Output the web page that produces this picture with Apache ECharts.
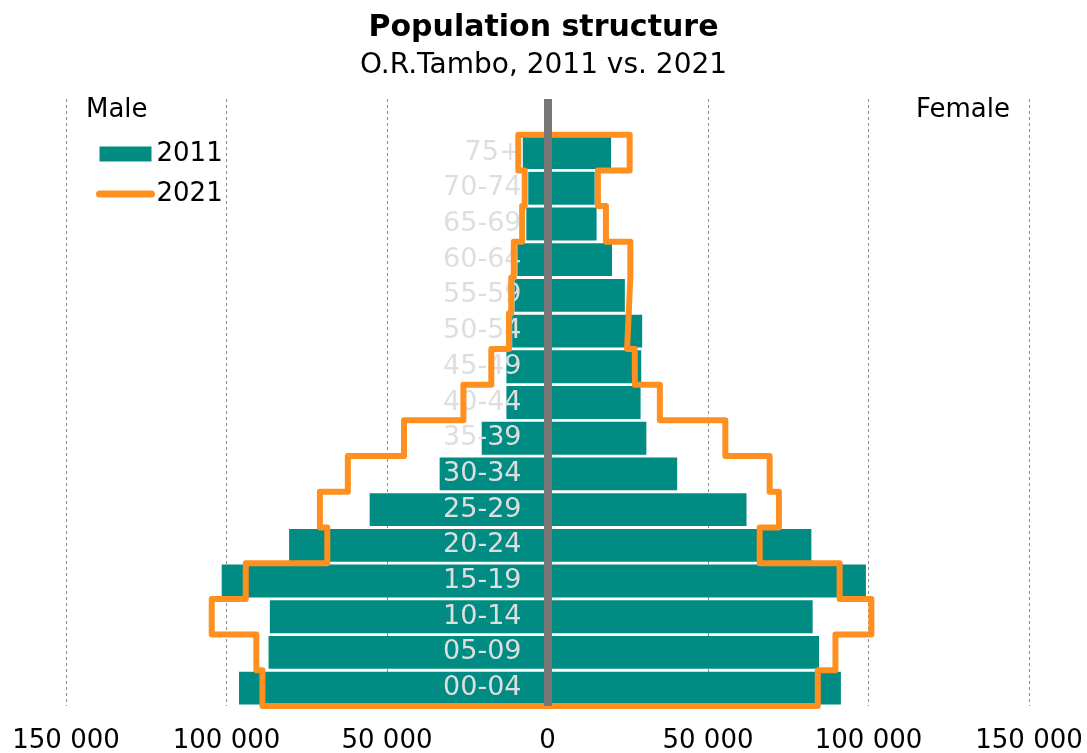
<!DOCTYPE html>
<html><head><meta charset="utf-8">
<script src="https://cdn.jsdelivr.net/npm/echarts@6/dist/echarts.min.js"></script>
<style>html,body{margin:0;padding:0;background:#fff}#c{width:1087px;height:753px}</style>
</head><body><div id="c"></div>
<script>
const categories = ['00-04','05-09','10-14','15-19','20-24','25-29','30-34','35-39','40-44','45-49','50-54','55-59','60-64','65-69','70-74','75+'];
const male2011 =   [96100, 86900, 86500, 101500, 80500, 55400, 33600, 20500, 12800, 12800, 11000, 10300, 9400, 6600, 6000, 7700];
const female2011 = [91400, 84600, 82600, 99200, 82200, 62000, 40400, 30800, 29000, 29200, 29500, 24100, 20100, 15300, 14700, 19800];
const male2021 =   [88800, 90700, 104600, 94000, 68600, 70900, 62200, 44700, 26200, 17500, 12000, 11300, 10500, 7900, 7100, 9100];
const female2021 = [84200, 89700, 100900, 91000, 66100, 72100, 69200, 55400, 35000, 27200, 24800, 25300, 25800, 18200, 15700, 25600];
const xTicks = [-150000, -100000, -50000, 0, 50000, 100000, 150000];

const FONT = 'DejaVu Sans';
const TEAL = '#008c82';
const ORANGE = '#ff8f1f';
const n = categories.length;
const yCats = categories.concat(['']);

// outline path of the 2021 pyramid in (value, band-edge) space
const path2021 = [];
for (let i = 0; i < n; i++) { path2021.push([-male2021[i], i], [-male2021[i], i + 1]); }
for (let i = n - 1; i >= 0; i--) { path2021.push([female2021[i], i + 1], [female2021[i], i]); }
path2021.push([-male2021[0], 0]);

function fmt(v) { return String(Math.abs(v)).replace(/\B(?=(\d{3})+(?!\d))/g, ' '); }

const GRID_LEFT = 66, GRID_RIGHT = 58, W = 1087;
const plotW = W - GRID_LEFT - GRID_RIGHT;

const chart = echarts.init(document.getElementById('c'));
chart.setOption({
  animation: false,
  backgroundColor: '#fff',
  textStyle: { fontFamily: FONT },
  title: [
    { text: 'Population structure', left: 'center', top: 8,
      textStyle: { fontFamily: FONT, fontSize: 30, fontWeight: 'bold', color: '#000' } },
    { text: 'O.R.Tambo, 2011 vs. 2021', left: 'center', top: 47,
      textStyle: { fontFamily: FONT, fontSize: 28, fontWeight: 'normal', color: '#000' } }
  ],
  legend: {
    orient: 'vertical', left: 96, top: 141, itemGap: 14, padding: 0,
    itemWidth: 52, itemHeight: 15, itemTextGap: 5,
    textStyle: { fontFamily: FONT, fontSize: 26, color: '#000' },
    data: [
      { name: '2011', icon: 'rect' },
      { name: '2021', itemStyle: { opacity: 0 }, lineStyle: { width: 7, color: ORANGE, cap: 'round' } }
    ]
  },
  graphic: [
    { type: 'text', left: 86, top: 97, style: { text: 'Male', fontFamily: FONT, fontSize: 26, fill: '#000' } },
    { type: 'text', right: 77, top: 97, style: { text: 'Female', fontFamily: FONT, fontSize: 26, fill: '#000' } }
  ],
  grid: { left: GRID_LEFT, right: GRID_RIGHT, top: 99, bottom: 47, outerBoundsMode: 'none', containLabel: false },
  xAxis: {
    type: 'value', min: xTicks[0], max: xTicks[xTicks.length - 1], interval: 50000,
    axisLine: { show: false }, axisTick: { show: false },
    axisLabel: { fontFamily: FONT, fontSize: 26, color: '#000', margin: 22, formatter: fmt },
    splitLine: { show: true, lineStyle: { color: '#8a8a8a', type: [3, 3], width: 1 } }
  },
  yAxis: [
    { type: 'category', data: yCats, z: 3, position: 'left', offset: -plotW / 2,
      axisLine: { show: false, onZero: false }, axisTick: { show: false },
      axisLabel: { fontFamily: FONT, fontSize: 27, color: '#dedede', margin: 26 },
      splitLine: { show: false } },
    { type: 'value', min: 0, max: n + 1, show: false, splitLine: { show: false } }
  ],
  series: [
    { name: '2011', type: 'bar', data: male2011.map(v => -v), barWidth: '92%', barGap: '-100%',
      itemStyle: { color: TEAL }, z: 2, silent: true },
    { name: '2011', type: 'bar', data: female2011, barWidth: '92%', barGap: '-100%',
      itemStyle: { color: TEAL }, z: 2, silent: true },
    { name: '2021', type: 'line', yAxisIndex: 1, data: path2021, showSymbol: false, symbol: 'none',
      z: 4, silent: true,
      lineStyle: { color: ORANGE, width: 6, cap: 'round', join: 'round' },
      itemStyle: { color: ORANGE },
      markLine: { silent: true, symbol: 'none', z: 6, label: { show: false },
        lineStyle: { color: '#777777', width: 8, type: 'solid' },
        data: [{ xAxis: 0 }] } }
  ]
});
</script></body></html>
